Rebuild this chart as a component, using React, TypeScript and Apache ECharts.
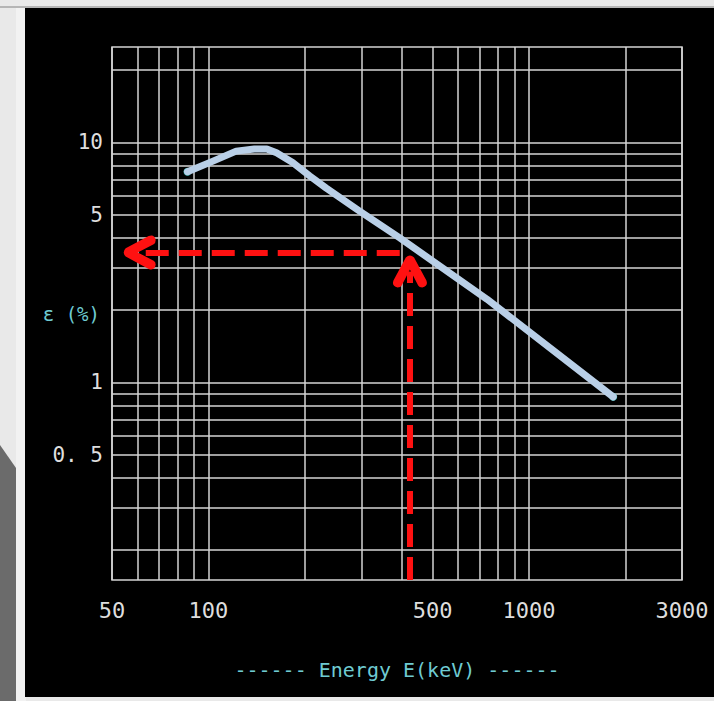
import React, { useEffect, useRef } from "react";
import * as echarts from "echarts";

// Detection efficiency curve (log-log)
const energyKeV = [86, 102, 122, 139, 152, 163, 183, 207, 233, 296, 395, 740, 1830];
const efficiencyPct = [7.55, 8.3, 9.2, 9.4, 9.4, 9.05, 8.25, 7.25, 6.45, 5.17, 4.0, 2.22, 0.87];

// Grid lines and tick labels
const xGridValues = [50, 60, 70, 80, 90, 100, 200, 300, 400, 500, 600, 700, 800, 900, 1000, 2000, 3000];
const yGridValues = [0.2, 0.3, 0.4, 0.5, 0.6, 0.7, 0.8, 0.9, 1, 2, 3, 4, 5, 6, 7, 8, 9, 10, 20];
const xTickLabels = [50, 100, 500, 1000, 3000];
const yTickLabels = [0.5, 1, 5, 10];
const xRange = [50, 3000];
const yRange = [0.15, 25];

// Read-off arrows (energy -> efficiency)
const readEnergy = 425;
const readEfficiency = 3.48;
const horizArrowStart = 395;
const horizArrowEnd = 61;
const vertArrowEnd = 2.9;

const CHEVRON =
  "path://M13,2 Q17,-2 21,2 L33,25 Q35,31 29,32 Q26,32 25,30 L17,14 L9,30 Q8,32 5,32 Q-1,31 1,25 Z";
const MONO = "'DejaVu Sans Mono', monospace";

export default function App() {
  const ref = useRef<HTMLDivElement>(null);
  useEffect(() => {
    if (!ref.current) return;
    const chart = echarts.init(ref.current, undefined, { renderer: "svg" });
    const curve = energyKeV.map((e, i) => [e, efficiencyPct[i]]);
    const last = energyKeV.length - 1;
    chart.setOption({
      animation: false,
      backgroundColor: "#e9e9e9",
      graphic: [
        { type: "rect", z: -10, shape: { x: 16, y: 8, width: 10, height: 693 }, style: { fill: "#f2f2f2" } },
        { type: "rect", z: -10, shape: { x: 25, y: 8, width: 689, height: 689 }, style: { fill: "#000000" } },
        { type: "rect", z: -10, shape: { x: 0, y: 6, width: 714, height: 2 }, style: { fill: "#b5b5b5" } },
        { type: "polygon", z: -10, shape: { points: [[0, 445], [16, 468], [16, 701], [0, 701]] }, style: { fill: "#6b6b6b" } },
      ],
      grid: {
        left: 112,
        right: 32,
        top: 47,
        bottom: 121,
        show: true,
        borderColor: "#d4d4d4",
        borderWidth: 1.5,
        backgroundColor: "transparent",
        outerBoundsMode: "none",
      },
      xAxis: {
        type: "log",
        min: xRange[0],
        max: xRange[1],
        name: "------ Energy E(keV) ------",
        nameLocation: "middle",
        nameGap: 80,
        nameMoveOverlap: false,
        nameTextStyle: { color: "#6fcbd2", fontSize: 20, fontFamily: MONO },
        axisLine: { show: false },
        axisTick: { show: false, customValues: xGridValues },
        axisLabel: {
          customValues: xTickLabels,
          color: "#dedede",
          fontSize: 22,
          fontFamily: MONO,
          margin: 19,
          formatter: (v: number) => String(v),
        },
        splitLine: { show: true, lineStyle: { color: "#d4d4d4", width: 1.5 } },
      },
      yAxis: {
        type: "log",
        min: yRange[0],
        max: yRange[1],
        name: "ε (%)",
        nameLocation: "middle",
        nameRotate: 0,
        nameGap: 12,
        nameMoveOverlap: false,
        nameTextStyle: { color: "#6fcbd2", fontSize: 19, fontFamily: MONO, align: "right", padding: [0, 0, 20, 0] },
        axisLine: { show: false },
        axisTick: { show: false, customValues: yGridValues },
        axisLabel: {
          customValues: yTickLabels,
          color: "#dedede",
          fontSize: 21,
          fontFamily: MONO,
          margin: 9,
          formatter: (v: number) => (v === 0.5 ? "0. 5" : String(v)),
        },
        splitLine: { show: true, lineStyle: { color: "#d4d4d4", width: 1.5 } },
      },
      series: [
        {
          type: "scatter",
          z: 2,
          data: [curve[0], curve[last]],
          symbolSize: 8,
          itemStyle: { color: "#48d8d4" },
          silent: true,
        },
        {
          type: "line",
          z: 3,
          data: curve,
          showSymbol: false,
          smooth: false,
          lineStyle: { color: "#b9cfe7", width: 7, cap: "round", join: "round" },
          silent: true,
        },
        {
          type: "line",
          z: 4,
          data: [],
          silent: true,
          markLine: {
            silent: true,
            animation: false,
            symbol: ["none", CHEVRON],
            symbolSize: [34, 32],
            label: { show: false },
            lineStyle: { color: "#ff1111", width: 6, type: [23, 10], opacity: 1 },
            emphasis: { disabled: true },
            data: [
              [
                { coord: [horizArrowStart, readEfficiency] },
                { coord: [horizArrowEnd, readEfficiency] },
              ],
              [
                { coord: [readEnergy, yRange[0]] },
                { coord: [readEnergy, vertArrowEnd] },
              ],
            ],
          },
        },
      ],
    });
    return () => chart.dispose();
  }, []);
  return (
    <div
      ref={ref}
      style={{ position: "absolute", left: 0, top: 0, width: 714, height: 701 }}
    />
  );
}
